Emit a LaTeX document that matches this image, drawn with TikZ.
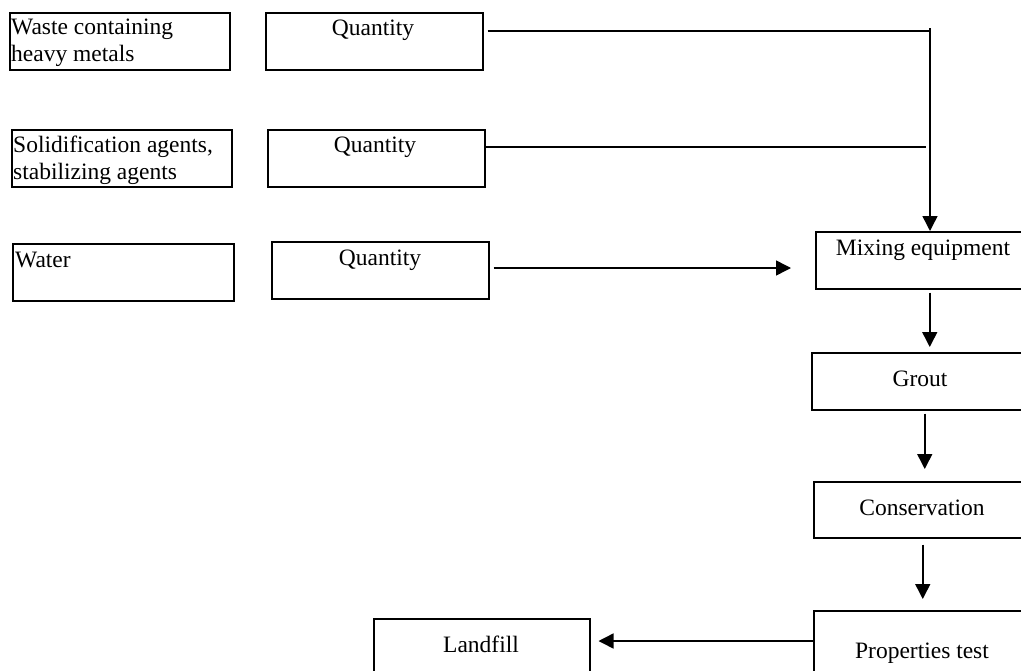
\documentclass[tikz,border=0pt]{standalone}
\usepackage{fontspec}
\setmainfont{Liberation Serif}
\usepackage{tikz}
\usetikzlibrary{arrows.meta}

\tikzset{
  box/.style={draw, line width=1.5pt, inner sep=0pt, anchor=north west},
  txt/.style={inner sep=0pt, font=\fontsize{23.5}{27}\selectfont},
  con/.style={line width=1.5pt},
  arr/.style={line width=1.5pt, -{Triangle[length=15pt,width=15pt]}}
}

\begin{document}
\begin{tikzpicture}[x=1pt,y=1pt,yscale=-1,xscale=1]
		\useasboundingbox (0,0) rectangle (1021,670);
		\clip (0,0) rectangle (1021,670);
		
		%Shape: Rectangle [inputs]
		\node[box, minimum width=220pt, minimum height=57pt] (waste) at (9,12) {};
		\node[box, minimum width=220pt, minimum height=57pt] (solid) at (11,129) {};
		\node[box, minimum width=221pt, minimum height=57pt] (water) at (12,243) {};
		%Shape: Rectangle [quantities]
		\node[box, minimum width=217pt, minimum height=57pt] (q1) at (265,12) {};
		\node[box, minimum width=217pt, minimum height=57pt] (q2) at (267,129) {};
		\node[box, minimum width=217pt, minimum height=57pt] (q3) at (271,241) {};
		%Shape: Rectangle [process]
		\node[box, minimum width=218pt, minimum height=57pt] (mix) at (815,231) {};
		\node[box, minimum width=218pt, minimum height=57pt] (grout) at (811,352) {};
		\node[box, minimum width=218pt, minimum height=56pt] (cons) at (813,481) {};
		\node[box, minimum width=218pt, minimum height=84pt] (prop) at (813,610) {};
		\node[box, minimum width=216pt, minimum height=70pt] (landfill) at (373,618) {};
		
		% Text Node
		\node[txt, anchor=north west, align=left] (wastetext) at (11,19) {Waste containing\\heavy metals};
		% Text Node
		\node[txt, anchor=north west, align=left] (solidtext) at (13,136) {Solidification agents,\\stabilizing agents};
		% Text Node
		\node[txt, anchor=base west] (watertext) at (15,267) {Water};
		% Text Node
		\node[txt, anchor=base] (q1text) at (373,35) {Quantity};
		\node[txt, anchor=base] (q2text) at (375,152) {Quantity};
		\node[txt, anchor=base] (q3text) at (380,265) {Quantity};
		% Text Node
		\node[txt, anchor=base] (mixtext) at (923,255) {Mixing equipment};
		\node[txt, anchor=base] (grouttext) at (920,386) {Grout};
		\node[txt, anchor=base] (constext) at (922,515) {Conservation};
		\node[txt, anchor=base] (proptext) at (922,658) {Properties test};
		\node[txt, anchor=base] (landfilltext) at (481,652) {Landfill};
		
		%Straight Lines
		\coordinate (j1) at (930,31);
		\coordinate (j2) at (926,147);
		\coordinate (j3) at (791,268);
		\coordinate (j4) at ([yshift=31pt]prop.north west);
		\draw[con] ([xshift=4pt]q1.east |- j1) -- (j1);
		\draw[arr] ([yshift=-3pt]j1) -- (j1 |- mix.north);
		\draw[con] (q2.east |- j2) -- (j2);
		\draw[arr] ([xshift=4pt]q3.east |- j3) -- (j3);
		\draw[arr, shorten <=3pt, shorten >=5pt] ([xshift=5pt]mix.south) -- ([xshift=5pt]mix.south |- grout.north);
		\draw[arr, shorten <=3pt, shorten >=12pt] ([xshift=4pt]grout.south) -- ([xshift=4pt]grout.south |- cons.north);
		\draw[arr, shorten <=6pt, shorten >=11pt] (cons.south) -- (cons.south |- prop.north);
		\draw[arr, shorten >=8pt] (j4) -- (j4 -| landfill.east);
		
\end{tikzpicture}
\end{document}
